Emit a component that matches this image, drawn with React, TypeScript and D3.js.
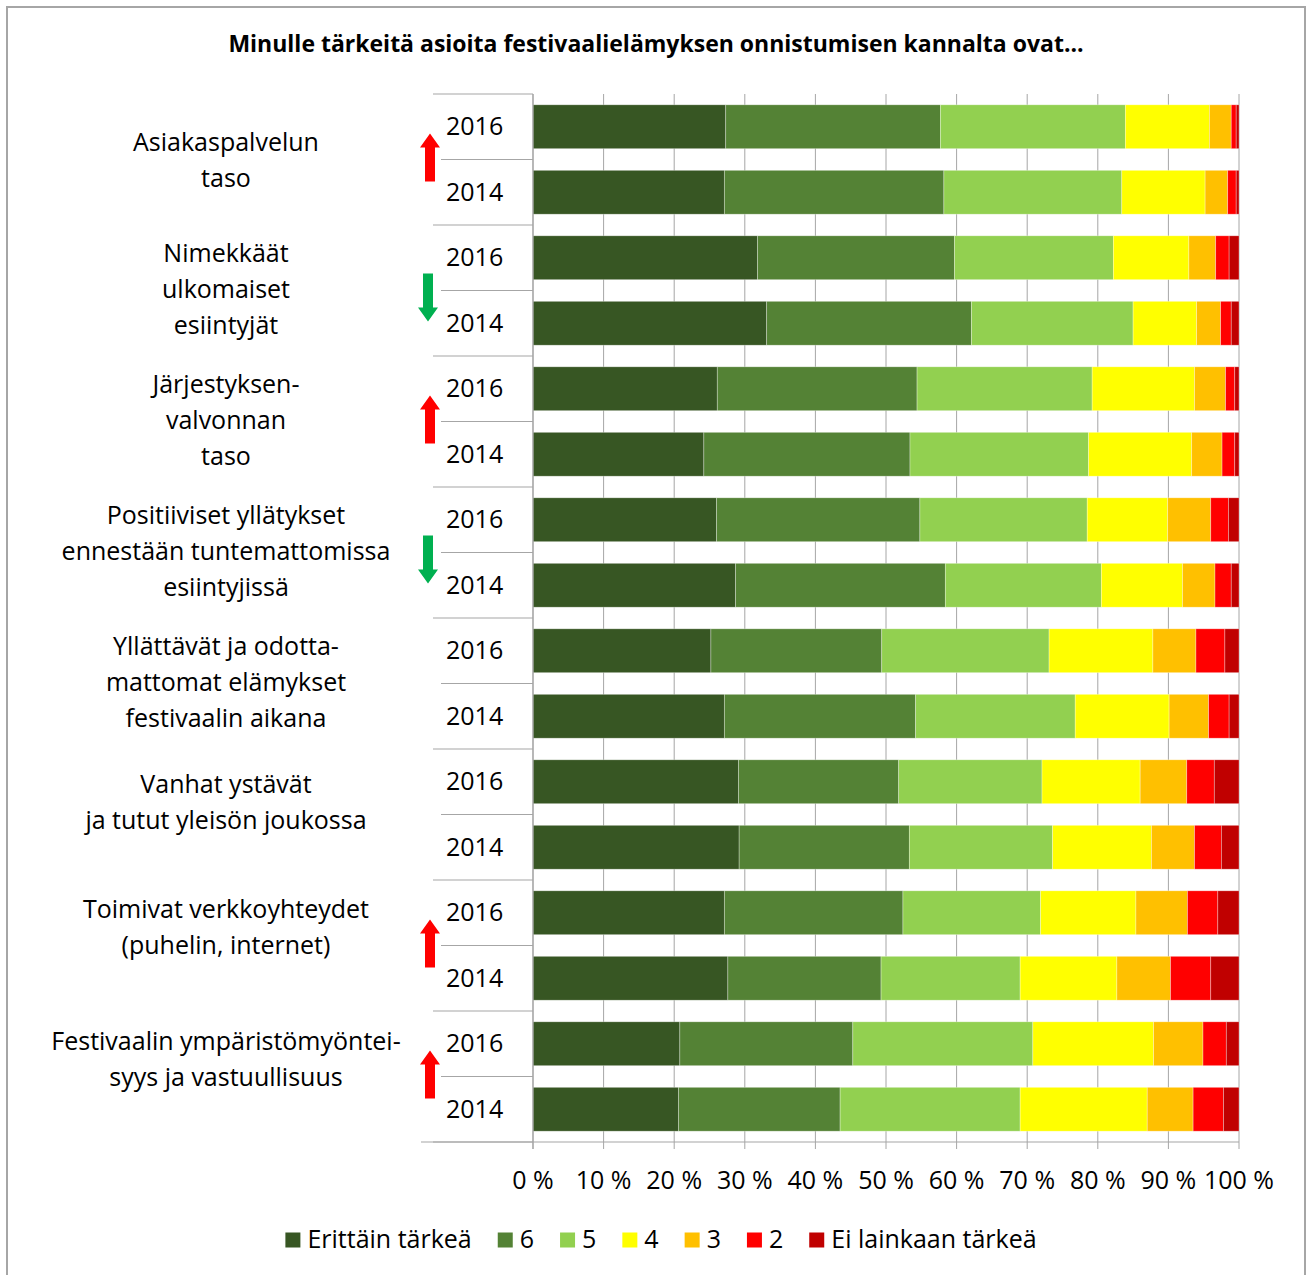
import { useEffect, useRef } from 'react';
import * as d3 from 'd3';

// category labels (already line-broken like the original)
const categories: string[][] = [
    ['Asiakaspalvelun', 'taso'],
    ['Nimekkäät', 'ulkomaiset', 'esiintyjät'],
    ['Järjestyksen-', 'valvonnan', 'taso'],
    ['Positiiviset yllätykset', 'ennestään tuntemattomissa', 'esiintyjissä'],
    ['Yllättävät ja odotta-', 'mattomat elämykset', 'festivaalin aikana'],
    ['Vanhat ystävät', 'ja tutut yleisön joukossa'],
    ['Toimivat verkkoyhteydet', '(puhelin, internet)'],
    ['Festivaalin ympäristömyöntei-', 'syys ja vastuullisuus'],
];
const years = ['2016', '2014'];
// change 2014 -> 2016 marker per category
const trend: (string | null)[] = ['up', 'down', 'up', 'down', null, null, 'up', 'up'];

const seriesNames = ['Erittäin tärkeä', '6', '5', '4', '3', '2', 'Ei lainkaan tärkeä'];
const seriesColors = ['#375623', '#548235', '#92d050', '#ffff00', '#ffc000', '#ff0000', '#c00000'];

// values in %, one per bar (category x year, 2016 first)
const erittain = [27.3, 27.1, 31.8, 33.1, 26.1, 24.2, 26.0, 28.7, 25.2, 27.1, 29.1, 29.2, 27.1, 27.6, 20.8, 20.6];
const s6 = [30.4, 31.1, 27.9, 29.0, 28.3, 29.2, 28.8, 29.7, 24.2, 27.1, 22.7, 24.1, 25.3, 21.7, 24.5, 22.9];
const s5 = [26.2, 25.2, 22.5, 22.9, 24.8, 25.3, 23.7, 22.1, 23.7, 22.6, 20.3, 20.3, 19.5, 19.7, 25.5, 25.5];
const s4 = [11.9, 11.8, 10.7, 9.0, 14.5, 14.6, 11.4, 11.5, 14.7, 13.3, 13.9, 14.0, 13.5, 13.7, 17.1, 18.0];
const s3 = [3.1, 3.2, 3.8, 3.4, 4.4, 4.3, 6.1, 4.6, 6.1, 5.6, 6.6, 6.1, 7.3, 7.6, 7.0, 6.5];
const s2 = [0.7, 1.2, 1.9, 1.5, 1.3, 1.8, 2.5, 2.3, 4.1, 2.9, 3.9, 3.8, 4.3, 5.7, 3.3, 4.3];
const eiLainkaan = [0.4, 0.4, 1.4, 1.1, 0.6, 0.6, 1.5, 1.1, 2.0, 1.4, 3.5, 2.5, 3.0, 4.0, 1.8, 2.2];

const xTicks = [0, 0.1, 0.2, 0.3, 0.4, 0.5, 0.6, 0.7, 0.8, 0.9, 1];

const W = 1311;
const H = 1275;
const plot = { left: 533, right: 1239, top: 94, bottom: 1142 };
const font = '"Open Sans", Lato, sans-serif';
const fs = '25px';
const labelShift = [2, 0, 0, 0, 0, -11, -17, -16];

const App = () => {
    const svgRef = useRef<SVGSVGElement>(null);

    useEffect(() => {
        const svg = d3.select(svgRef.current);
        svg.selectAll('*').remove();

        const rows = categories.flatMap((_, ci) =>
            years.map((yr, yi) => {
                const i = ci * 2 + yi;
                const r: any = { id: `${ci}-${yr}`, year: yr, cat: ci };
                [erittain, s6, s5, s4, s3, s2, eiLainkaan].forEach((arr, si) => {
                    r[seriesNames[si]] = arr[i];
                });
                return r;
            })
        );

        const stacked = d3
            .stack<any>()
            .keys(seriesNames)
            .offset(d3.stackOffsetExpand)(rows);

        const x = d3.scaleLinear().domain([0, 1]).range([plot.left, plot.right]);
        const y = d3
            .scaleBand()
            .domain(rows.map(r => r.id))
            .range([plot.top, plot.bottom])
            .paddingInner(0.33)
            .paddingOuter(0.165);
        const step = y.step();

        // outer border
        svg.append('rect')
            .attr('x', 7)
            .attr('y', 7)
            .attr('width', 1298)
            .attr('height', 1290)
            .attr('fill', 'white')
            .attr('stroke', '#a6a6a6')
            .attr('stroke-width', 2);

        // title
        svg.append('text')
            .attr('x', 656)
            .attr('y', 46)
            .attr('text-anchor', 'middle')
            .attr('dominant-baseline', 'middle')
            .style('font-family', font)
            .style('font-weight', 'bold')
            .style('font-size', '23px')
            .text('Minulle tärkeitä asioita festivaalielämyksen onnistumisen kannalta ovat...');

        // gridlines + ticks
        svg.append('g')
            .selectAll('line')
            .data(xTicks)
            .join('line')
            .attr('x1', d => x(d))
            .attr('x2', d => x(d))
            .attr('y1', plot.top)
            .attr('y2', plot.bottom + 7)
            .attr('stroke', '#a6a6a6')
            .attr('stroke-width', 1);

        // category separators
        svg.append('g')
            .selectAll('line')
            .data(d3.range(rows.length + 1))
            .join('line')
            .attr('x1', i => (i % 2 === 0 ? 433 : 441))
            .attr('x2', plot.left)
            .attr('y1', i => plot.top + i * step)
            .attr('y2', i => plot.top + i * step)
            .attr('stroke', '#a6a6a6')
            .attr('stroke-width', 1.2);

        // bars
        svg.append('g')
            .selectAll('g')
            .data(stacked)
            .join('g')
            .attr('fill', (_, i) => seriesColors[i])
            .selectAll('rect')
            .data(d => d)
            .join('rect')
            .attr('x', d => x(d[0]))
            .attr('width', d => x(d[1]) - x(d[0]))
            .attr('y', d => y(d.data.id) ?? 0)
            .attr('height', y.bandwidth())
            .attr('stroke', 'rgba(255,255,255,0.45)')
            .attr('stroke-width', 0.7);

        // axes lines
        svg.append('line')
            .attr('x1', plot.left)
            .attr('x2', plot.left)
            .attr('y1', plot.top)
            .attr('y2', plot.bottom + 7)
            .attr('stroke', '#a6a6a6')
            .attr('stroke-width', 1.2);
        svg.append('line')
            .attr('x1', 421)
            .attr('x2', plot.right)
            .attr('y1', plot.bottom)
            .attr('y2', plot.bottom)
            .attr('stroke', '#a6a6a6')
            .attr('stroke-width', 1.2);

        // x tick labels
        svg.append('g')
            .selectAll('text')
            .data(xTicks)
            .join('text')
            .attr('x', d => x(d))
            .attr('y', 1182)
            .attr('text-anchor', 'middle')
            .attr('dominant-baseline', 'middle')
            .style('font-family', font)
            .style('font-size', fs)
            .text(d => `${Math.round(d * 100)} %`);

        // year labels
        svg.append('g')
            .selectAll('text')
            .data(rows)
            .join('text')
            .attr('x', 446)
            .attr('y', d => (y(d.id) ?? 0) + y.bandwidth() / 2 + 2)
            .attr('dominant-baseline', 'middle')
            .style('font-family', font)
            .style('font-size', fs)
            .text(d => d.year);

        // category labels
        const groupCenter = (ci: number) => plot.top + step * (ci * 2 + 1);
        svg.append('g')
            .selectAll('text')
            .data(categories)
            .join('text')
            .attr('text-anchor', 'middle')
            .style('font-family', font)
            .style('font-size', fs)
            .each(function (lines, ci) {
                const c = groupCenter(ci) + labelShift[ci];
                const lh = 36;
                d3.select(this)
                    .selectAll('tspan')
                    .data(lines)
                    .join('tspan')
                    .attr('x', 226)
                    .attr('y', (_, li) => c + (li - (lines.length - 1) / 2) * lh + 1)
                    .attr('dominant-baseline', 'middle')
                    .text(l => l);
            });

        // trend arrows
        const arrowPath = d3.path();
        // pointing up, centred on 0,0
        arrowPath.moveTo(0, -24);
        arrowPath.lineTo(10, -10);
        arrowPath.lineTo(5, -10);
        arrowPath.lineTo(5, 24);
        arrowPath.lineTo(-5, 24);
        arrowPath.lineTo(-5, -10);
        arrowPath.lineTo(-10, -10);
        arrowPath.closePath();
        svg.append('g')
            .selectAll('path')
            .data(trend.map((t, ci) => ({ t, ci })).filter(d => d.t))
            .join('path')
            .attr('d', arrowPath.toString())
            .attr('fill', d => (d.t === 'up' ? '#ff0000' : '#00b050'))
            .attr('transform', d =>
                d.t === 'up'
                    ? `translate(430,${groupCenter(d.ci) - 2})`
                    : `translate(428,${groupCenter(d.ci) + 7}) rotate(180)`
            );

        // legend
        const legend = svg.append('g');
        const items = legend
            .selectAll('g')
            .data(seriesNames)
            .join('g');
        items.append('rect')
            .attr('width', 15)
            .attr('height', 15)
            .attr('y', -7.5)
            .attr('fill', (_, i) => seriesColors[i]);
        items.append('text')
            .attr('x', 22)
            .attr('y', 1)
            .attr('dominant-baseline', 'middle')
            .style('font-family', font)
            .style('font-size', fs)
            .text(d => d);
        const widths: number[] = [];
        items.each(function () {
            const t = d3.select(this).select('text').node() as SVGTextElement;
            widths.push(22 + t.getComputedTextLength());
        });
        const gap = 26;
        const total = d3.sum(widths) + gap * (widths.length - 1);
        let cx = 661 - total / 2;
        items.attr('transform', (_, i) => {
            const tx = cx;
            cx += widths[i] + gap;
            return `translate(${tx},1240)`;
        });
    }, []);

    return (
        <svg
            ref={svgRef}
            width={W}
            height={H}
            style={{ position: 'absolute', left: 0, top: 0, background: 'white' }}
        ></svg>
    );
};

export default App;
